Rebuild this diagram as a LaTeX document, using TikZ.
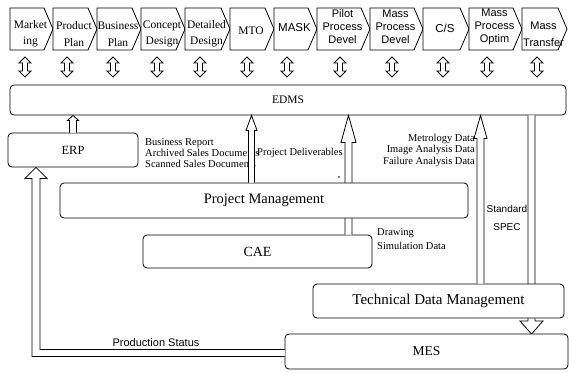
\documentclass[tikz,border=0pt]{standalone}
\usepackage{fontspec}
\setmainfont{Liberation Serif}
\newfontfamily\sansfam{Liberation Sans}
\usetikzlibrary{calc}

\newcommand\fsz[2]{\fontsize{#1}{#2}\selectfont}

\tikzset{
  box/.style={draw, fill=white, rounded corners=4pt, inner sep=0pt, line width=0.8pt},
  hollow/.style={draw, fill=white, line width=0.8pt, line join=miter},
  chevline/.style={draw, fill=white, line width=0.8pt, line join=miter},
  chevtext/.style={inner sep=0pt, align=center},
  lbl/.style={inner sep=0pt, font=\fsz{10.5}{11}},
}

% chevron: name, left, right, text y, font, text
\newcommand\chev[6]{%
  \draw[chevline] (#2,8) -- ({#3-9},8) -- (#3,29) -- ({#3-9},50) -- (#2,50) -- cycle;
  \node[chevtext, font=#5] (#1) at ({(#2+#3)/2-1},#4) {#6};
}

% vertical hollow arrow: start, tip, half shaft, half head, signed head offset (canvas)
\newcommand\varrow[5]{%
  \path[hollow] let \p1=(#1), \p2=(#2) in
    ({\x1-#3},\y1) -- ({\x1-#3},{\y2+(#5)}) -- ({\x1-#4},{\y2+(#5)}) -- (\x1,\y2)
    -- ({\x1+#4},{\y2+(#5)}) -- ({\x1+#3},{\y2+(#5)}) -- ({\x1+#3},\y1);
}

\begin{document}
\begin{tikzpicture}[x=1pt,y=-1pt]
\useasboundingbox (0,0) rectangle (569,372);

% ---- top chevrons ----
\def\sf{\fsz{11.5}{16.5}}
\def\sfs{\sansfam\fsz{11}{13}}
\chev{c1}{10}{53}{34}{\sf}{Market\\ing}
\chev{c2}{53}{97}{34}{\sf}{Product\\Plan}
\chev{c3}{97}{141}{34}{\sf}{Business\\Plan}
\chev{c4}{141}{185}{34}{\sf}{Concept\\Design}
\chev{c5}{185}{230}{34}{\sf}{Detailed\\Design}
\chev{c6}{230}{274}{31}{\fsz{11.5}{13}}{MTO}
\chev{c7}{274}{317}{28}{\sansfam\fsz{11.5}{13}}{MASK}
\chev{c8}{317}{370}{27}{\sfs}{Pilot\\Process\\Devel}
\chev{c9}{370}{423}{27}{\sfs}{Mass\\Process\\Devel}
\chev{c10}{423}{469}{28}{\sansfam\fsz{11.5}{13}}{C/S}
\chev{c11}{469}{522}{27}{\sfs}{Mass\\Process\\Optim}
\chev{c12}{522}{567}{34}{\sansfam\fsz{11}{17}}{Mass\\Transfer}

% ---- double arrows ----
\foreach \i/\x in {1/25,2/67,3/113,4/157,5/200,6/247,7/287,8/340,9/392,10/443,11/487,12/537}{
  \coordinate (da\i) at (\x,57);
  \path[hollow] (da\i) -- ++(6,6) -- ++(-3.5,0) -- ++(0,8) -- ++(3.5,0) -- ++(-6,6)
     -- ++(-6,-6) -- ++(3.5,0) -- ++(0,-8) -- ++(-3.5,0) -- cycle;
}

% ---- boxes ----
\node[box, minimum width=556pt, minimum height=30pt, font=\fsz{11.5}{12}] (edms) at (288,100) {EDMS};
\node[box, minimum width=130pt, minimum height=34pt, font=\fsz{12.5}{13}] (erp) at (73,150) {ERP};
\node[box, minimum width=229pt, minimum height=33pt, font=\fsz{14}{15}] (cae) at (257.5,251.5) {CAE};

% ---- labels ----
\node[lbl, anchor=west, align=left] (lbiz) at (145,153) {Business Report\\Archived Sales Documents\\Scanned Sales Documents};
\node[lbl, anchor=west] (lpd) at (257,153) {Project Deliverables};
\node[lbl, anchor=east, align=right, font=\fsz{10.5}{11.5}] (lmet) at (475,150) {Metrology Data\\Image Analysis Data\\Failure Analysis Data};
\node[lbl, anchor=west, align=left, font=\fsz{10.5}{13.5}] (ldraw) at (377,239) {Drawing\\Simulation Data};
\node[lbl, font=\sansfam\fsz{10}{18}, align=center] (lspec) at (507,218) {Standard\\SPEC};
\node[lbl, font=\sansfam\fsz{11}{12}] (lps) at (156,343) {Production Status};
\fill (339,177) circle (0.9pt);

% ---- CAE -> EDMS (behind Project Management) ----
\varrow{[xshift=91pt]cae.north}{[xshift=91pt]cae.north |- edms.south}{3.5pt}{7.5pt}{-27pt}

\node[box, minimum width=408pt, minimum height=35pt, font=\fsz{14.5}{15}] (pm) at (264,200.5) {Project Management};

% ---- PM -> EDMS ----
\varrow{[xshift=-12.5pt]pm.north}{[xshift=-12.5pt]pm.north |- edms.south}{3pt}{5.5pt}{-15pt}
% ---- ERP -> EDMS ----
\varrow{erp.north}{erp.north |- edms.south}{3.5pt}{5.5pt}{-5pt}

% ---- EDMS -> MES (Standard SPEC), behind TDM ----
\varrow{[xshift=243.5pt]edms.south}{[xshift=243.5pt]edms.south |- 0,334}{3.5pt}{11.5pt}{13pt}

\node[box, minimum width=251pt, minimum height=34pt, font=\fsz{15}{16}] (tdm) at (438.5,301) {Technical Data Management};

% ---- TDM -> EDMS ----
\varrow{[xshift=42pt]tdm.north}{[xshift=42pt]tdm.north |- edms.south}{3.5pt}{6.5pt}{-23pt}

\node[box, minimum width=283pt, minimum height=35pt, font=\fsz{13.5}{14}] (mes) at (426.5,351.5) {MES};

% ---- MES -> ERP (Production Status) ----
\path[hollow] let \p1=(mes.west), \p2=([xshift=-37pt]erp.south) in
  (\x1,{\y1+2pt}) -- ({\x2+4pt},{\y1+2pt}) -- ({\x2+4pt},{\y2-11pt}) -- ({\x2+11pt},{\y2-11pt})
  -- (\x2,\y2) -- ({\x2-11pt},{\y2-11pt}) -- ({\x2-4pt},{\y2-11pt}) -- ({\x2-4pt},{\y1-5pt}) -- (\x1,{\y1-5pt});
\end{tikzpicture}
\end{document}
